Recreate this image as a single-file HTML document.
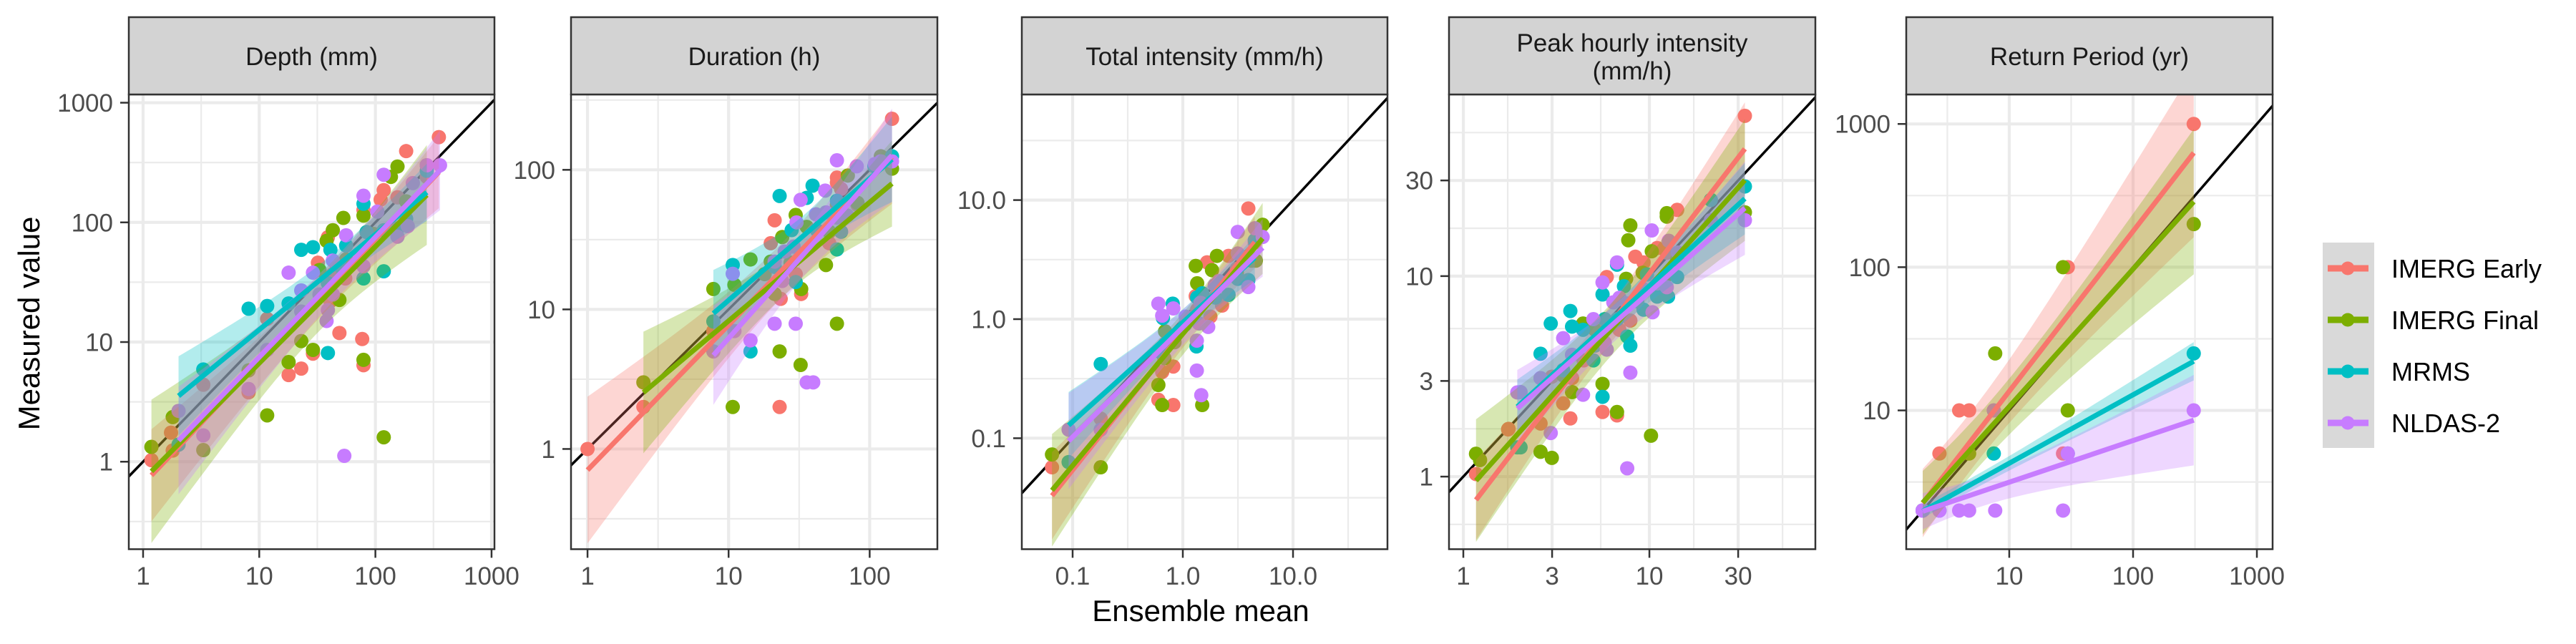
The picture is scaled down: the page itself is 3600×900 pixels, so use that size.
<!DOCTYPE html>
<html><head><meta charset="utf-8"><title>Measured vs ensemble mean</title>
<style>
html,body{margin:0;padding:0;background:#fff;width:3600px;height:900px;overflow:hidden;}
svg{display:block;font-family:"Liberation Sans",Arial,sans-serif;}
</style></head>
<body>
<svg id="chart" width="3600" height="900" viewBox="0 0 3600 900" xmlns="http://www.w3.org/2000/svg">
<rect width="3600" height="900" fill="#fff"/>
<text x="0" y="0" transform="translate(55,452) rotate(-90)" text-anchor="middle" font-size="42" fill="#000">Measured value</text>
<text x="1678" y="868" text-anchor="middle" font-size="42" fill="#000">Ensemble mean</text>
<g id="legend"></g>
</svg>
<script>
// ---------- data ----------
const seriesNames = ['IMERG Early','IMERG Final','MRMS','NLDAS-2'];
const seriesColors = ['#F8766D','#7CAE00','#00BFC4','#C77CFF'];

const depthEarlyX = [1.18,1.74,1.8,3.3,8.1,11.7,17.9,23,29,32,39,41,43,49,55,77,79,79,111,118,155,184,277,352];
const depthEarlyY = [1.03,1.75,1.24,4.4,3.8,15.6,5.3,6,8,46,75,22,37,11.9,34,10.6,6.4,127,155,186,162,394,240,516];
const depthFinalX = [1.18,1.8,3.3,8.1,11.7,17.9,23,29,33,38,43,49,53,56,79,79,97,118,136,155,184,277];
const depthFinalY = [1.33,2.36,1.25,5.8,2.44,6.8,10.2,8.6,40,70,86,22.5,109,49,7.1,114,80,1.6,240,293,150,300];
const depthMrmsX = [2.02,3.3,8.1,11.7,17.9,23,29,39,39,41,51,56,79,79,84,118,118,155,184,277];
const depthMrmsY = [1.39,5.9,19,20,21,59,62,8.1,31,59,42,64,34,143,83,39,86,89,107,270];
const depthNldasX = [2.02,3.3,8.1,11.7,17.9,23,23,29,33,38,39,43,43,54,56,79,79,104,118,155,190,210,277,360];
const depthNldasY = [2.66,1.66,4.05,8.6,38,18,27,38,25,15,18.5,25,48,1.12,78,167,43,123,250,76,93,213,300,300];

const durEarlyX = [1,2.49,7.8,19.9,21.2,23,23.4,29.9,32.7,51.7,58.6,58.6,62.7,82,144];
const durEarlyY = [1,2.0,7.0,29.8,43.5,2.0,11.9,17.9,12.9,29.8,88,81,73,56,232];
const durFinalX = [2.49,7.8,10.7,11,14.3,18,19.9,21.2,23,24,27.5,29.9,32.7,32.4,35.8,49,51.7,58.6,58.6,70,82,120,144];
const durFinalY = [3.0,14,2.0,15,22.8,17.9,22,12.9,5.0,33,21.6,47.5,14,4.0,39,20.8,36,7.9,56,91,58,125,102];
const durMrmsX = [7.8,10.7,14.3,21.2,23,28,29.9,35.8,39.4,42.5,58.6,62.7,58.6,108,144];
const durMrmsY = [8.2,20.8,5.0,20.2,65,37,15.7,63,77,36.7,26.9,36,60,106,125];
const durNldasX = [7.8,10.7,11,14.3,21.2,21.2,25,24,28.9,29.9,30.3,32.4,35.8,39.8,41.6,48.4,49,58.6,58.6,69.4,81,109,120,144];
const durNldasY = [5.0,18,7.0,6.0,7.9,22,26,16,28.2,7.9,42,61,3.0,3.0,48,71,49.5,117,45.5,47,106,110,115,115];

const intEarlyX = [0.065,0.18,0.6,0.65,0.69,0.82,0.82,1.31,1.35,1.66,1.78,2.27,2.6,3.09,3.93,4.5];
const intEarlyY = [0.057,0.146,0.21,0.36,0.62,0.19,0.40,1.56,1.2,3.0,1.05,1.3,3.4,2.65,8.5,4.4];
const intFinalX = [0.065,0.18,0.6,0.65,0.68,0.69,0.84,1.31,1.35,1.5,1.84,2.04,3.09,4.2,4.6,5.3];
const intFinalY = [0.073,0.057,0.28,0.19,0.47,0.79,0.64,2.8,2.0,0.19,2.58,3.4,2.45,3.1,3.1,6.2];
const intMrmsX = [0.092,0.18,0.6,0.66,0.81,1.05,1.33,1.35,1.5,1.97,2.6,3.15,3.93,4.5];
const intMrmsY = [0.063,0.42,0.54,1.02,1.35,0.9,0.59,1.52,1.65,1.52,1.6,2.18,2.13,4.6];
const intNldasX = [0.092,0.18,0.6,0.65,0.82,1.06,1.34,1.34,1.47,1.4,1.45,1.7,1.95,2.12,3.15,3.15,3.93,4.5,5.3];
const intNldasY = [0.118,0.118,1.35,1.07,1.23,1.05,0.66,0.37,0.23,0.92,1.37,0.86,1.93,2.09,3.56,5.4,1.86,5.8,4.9];

const peakEarlyX = [1.17,1.74,1.75,2.6,2.99,3.44,3.76,3.84,4.43,5.6,5.9,6.7,6.9,7.9,8.4,9.3,11,12.4,14.1,32.6];
const peakEarlyY = [1.03,1.72,1.73,1.84,3.15,2.32,1.95,3.1,3.8,2.1,9.9,2.02,5.4,6.0,12.5,11.7,13.8,13.1,21.4,63];
const peakFinalX = [1.17,1.23,2.6,2.99,3.44,3.84,4.4,5.1,5.6,6.7,7.5,7.7,7.9,9.2,10.2,10.3,12.4,12.4,12.6,14.1,32.6];
const peakFinalY = [1.30,1.21,1.33,1.24,3.2,2.64,5.8,5.4,2.9,2.1,9.7,15.1,17.9,10.4,1.6,13.3,20.6,19.8,10.2,12.1,20.8];
const peakMrmsX = [1.95,2.03,2.6,2.95,3.44,3.76,3.84,4.4,5,5.1,5.6,5.6,5.75,6.7,6.7,7.3,7.6,7.9,8.6,9.3,9.7,11,12.6,14.1,21.4,32.6];
const peakMrmsY = [1.40,1.40,4.1,5.8,3.4,6.7,5.6,5.4,3.8,4.5,8.1,2.5,6.1,6.1,11.4,8.9,5.0,4.5,7.5,6.8,10.2,7.9,7.9,9.9,24,28];
const peakNldasX = [1.95,2.03,2.6,2.95,3.44,3.84,4.4,5,5.6,5.75,5.9,6.7,6.4,6.9,7.6,7.9,7.6,9.3,10.3,10.4,11,12.4,12.7,14.2,21.4,32.6];
const peakNldasY = [2.63,2.64,3.1,1.65,4.9,4.05,2.56,6.1,9.3,4.66,4.3,11.7,7.4,7.8,7.3,3.3,1.1,8.6,16.9,6.6,9.2,8.8,15,13.1,19,19];

const retEarlyX = [2,2,2,2,2,2,2,2.73,3.94,4.74,27.2,29.7,309];
const retEarlyY = [2,2,2,2,2,2,2,5,10,10,5,100,1000];
const retFinalX = [2,2,2,2,2,2,2,4.74,7.7,27.2,29.7,309];
const retFinalY = [2,2,2,2,2,2,2,5,25,100,10,200];
const retMrmsX = [2,2,2,2,2,2,2,2,2.73,7.5,29.7,309];
const retMrmsY = [2,2,2,2,2,2,2,2,2,5,5,25];
const retNldasX = [2,2,2,2,2,2,2,2.73,3.94,4.74,7.5,7.7,27.2,29.7,309];
const retNldasY = [2,2,2,2,2,2,2,2,2,2,10,2,2,5,10];

const panelTitles = [['Depth (mm)'],['Duration (h)'],['Total intensity (mm/h)'],['Peak hourly intensity','(mm/h)'],['Return Period (yr)']];
const panelSlugs = ['depth','duration','total-intensity','peak-hourly-intensity','return-period'];
const xTickValues = [[1,10,100,1000],[1,10,100],[0.1,1,10],[1,3,10,30],[10,100,1000]];
const xTickLabels = [['1','10','100','1000'],['1','10','100'],['0.1','1.0','10.0'],['1','3','10','30'],['10','100','1000']];
const yTickValues = [[1,10,100,1000],[1,10,100],[0.1,1,10],[1,3,10,30],[10,100,1000]];
const yTickLabels = [['1','10','100','1000'],['1','10','100'],['0.1','1.0','10.0'],['1','3','10','30'],['10','100','1000']];
const panelSeriesX = [
  [depthEarlyX,depthFinalX,depthMrmsX,depthNldasX],
  [durEarlyX,durFinalX,durMrmsX,durNldasX],
  [intEarlyX,intFinalX,intMrmsX,intNldasX],
  [peakEarlyX,peakFinalX,peakMrmsX,peakNldasX],
  [retEarlyX,retFinalX,retMrmsX,retNldasX]];
const panelSeriesY = [
  [depthEarlyY,depthFinalY,depthMrmsY,depthNldasY],
  [durEarlyY,durFinalY,durMrmsY,durNldasY],
  [intEarlyY,intFinalY,intMrmsY,intNldasY],
  [peakEarlyY,peakFinalY,peakMrmsY,peakNldasY],
  [retEarlyY,retFinalY,retMrmsY,retNldasY]];

// ---------- layout (log10 domains) ----------
const layout = [
  {L:180,R:691,xlo:-0.123,xhi:3.025,ylo:-0.731,yhi:3.069},
  {L:798,R:1310,xlo:-0.117,xhi:2.48,ylo:-0.718,yhi:2.54},
  {L:1428,R:1939,xlo:-1.461,xhi:1.857,ylo:-1.932,yhi:1.887},
  {L:2025,R:2537,xlo:-0.077,xhi:1.892,ylo:-0.362,yhi:1.906},
  {L:2664,R:3176,xlo:0.168,xhi:3.127,ylo:0.031,yhi:3.206}];
const TOP=132, BOT=767.5, STRIP_TOP=24;

const NS='http://www.w3.org/2000/svg';
const svg=document.getElementById('chart');
function mk(tag,attrs,parent){const e=document.createElementNS(NS,tag);for(const k in attrs)e.setAttribute(k,attrs[k]);(parent||svg).appendChild(e);return e;}

function tq(df){const z=1.959964;return z+(z*z*z+z)/(4*df)+(5*Math.pow(z,5)+16*z*z*z+3*z)/(96*df*df)+(3*Math.pow(z,7)+19*Math.pow(z,5)+17*z*z*z-15*z)/(384*df*df*df);}
function minorBreaks(m,lo,hi){const out=[];for(let i=0;i<m.length-1;i++)out.push((m[i]+m[i+1])/2);
  if(m.length>1){out.push(m[0]-(m[1]-m[0])/2);out.push(m[m.length-1]+(m[m.length-1]-m[m.length-2])/2);}
  return out.filter(v=>v>lo&&v<hi);}

const defs=mk('defs',{});
layout.forEach((p,pi)=>{
  const sx=v=>p.L+(Math.log10(v)-p.xlo)/(p.xhi-p.xlo)*(p.R-p.L);
  const sy=v=>BOT-(Math.log10(v)-p.ylo)/(p.yhi-p.ylo)*(BOT-TOP);
  const sxl=l=>p.L+(l-p.xlo)/(p.xhi-p.xlo)*(p.R-p.L);
  const syl=l=>BOT-(l-p.ylo)/(p.yhi-p.ylo)*(BOT-TOP);
  const g=mk('g',{});
  
  
  const cp=mk('clipPath',{id:'clip'+pi},defs);
  mk('rect',{x:p.L,y:TOP,width:p.R-p.L,height:BOT-TOP},cp);
  mk('rect',{x:p.L,y:TOP,width:p.R-p.L,height:BOT-TOP,fill:'#fff'},g);
  const grid=mk('g',{'clip-path':'url(#clip'+pi+')'},g);
  
  
  const xm=xTickValues[pi].map(Math.log10), ym=yTickValues[pi].map(Math.log10);
  minorBreaks(xm,p.xlo,p.xhi).forEach(l=>mk('line',{x1:sxl(l),x2:sxl(l),y1:TOP,y2:BOT,stroke:'#ebebeb','stroke-width':2.2},grid));
  minorBreaks(ym,p.ylo,p.yhi).forEach(l=>mk('line',{x1:p.L,x2:p.R,y1:syl(l),y2:syl(l),stroke:'#ebebeb','stroke-width':2.2},grid));
  xm.forEach(l=>mk('line',{x1:sxl(l),x2:sxl(l),y1:TOP,y2:BOT,stroke:'#ebebeb','stroke-width':4.2},grid));
  ym.forEach(l=>mk('line',{x1:p.L,x2:p.R,y1:syl(l),y2:syl(l),stroke:'#ebebeb','stroke-width':4.2},grid));
  const plot=mk('g',{'clip-path':'url(#clip'+pi+')'},g);
  const lo=Math.min(p.xlo,p.ylo)-1, hi=Math.max(p.xhi,p.yhi)+1;
  const idl=mk('line',{x1:sxl(lo),y1:syl(lo),x2:sxl(hi),y2:syl(hi),stroke:'#000','stroke-width':3.5},plot);
  
  
  for(let s=0;s<4;s++){
    const xs=panelSeriesX[pi][s], ys=panelSeriesY[pi][s];
    for(let i=0;i<xs.length;i++){
      const c=mk('circle',{cx:sx(xs[i]),cy:sy(ys[i]),r:10,fill:seriesColors[s]},plot);
      
      
    }
  }
  const fits=[];
  for(let s=0;s<4;s++){
    const X=panelSeriesX[pi][s].map(Math.log10), Y=panelSeriesY[pi][s].map(Math.log10);
    const n=X.length, mx=X.reduce((a,b)=>a+b)/n, my=Y.reduce((a,b)=>a+b)/n;
    let sxx=0,sxy=0;for(let i=0;i<n;i++){sxx+=(X[i]-mx)**2;sxy+=(X[i]-mx)*(Y[i]-my);}
    const b=sxy/sxx, a=my-b*mx;
    let sse=0;for(let i=0;i<n;i++)sse+=(Y[i]-a-b*X[i])**2;
    const se=Math.sqrt(sse/(n-2)), t=tq(n-2);
    const x0=Math.min(...X), x1=Math.max(...X), up=[], dn=[];
    fits.push({a,b,x0,x1});
    for(let k=0;k<=60;k++){const x=x0+(x1-x0)*k/60, f=a+b*x, w=t*se*Math.sqrt(1/n+(x-mx)**2/sxx);
      up.push(sxl(x)+','+syl(f+w));dn.unshift(sxl(x)+','+syl(f-w));}
    const rib=mk('polygon',{points:up.concat(dn).join(' '),fill:seriesColors[s],'fill-opacity':0.3},plot);
    
    
  }
  fits.forEach((f,s)=>{
    const ln=mk('line',{x1:sxl(f.x0),y1:syl(f.a+f.b*f.x0),x2:sxl(f.x1),y2:syl(f.a+f.b*f.x1),stroke:seriesColors[s],'stroke-width':7},plot);
    
    
  });
  mk('rect',{x:p.L,y:TOP,width:p.R-p.L,height:BOT-TOP,fill:'none',stroke:'#333','stroke-width':2.5},g);
  const st=mk('rect',{x:p.L,y:STRIP_TOP,width:p.R-p.L,height:TOP-STRIP_TOP,fill:'#d3d3d3',stroke:'#333','stroke-width':2.5},g);
  
  
  const lines=panelTitles[pi], cx=(p.L+p.R)/2;
  lines.forEach((tx,li)=>{
    const y=lines.length===1?79+12:(60+12+li*39);
    const te=mk('text',{x:cx,y:y,'text-anchor':'middle','font-size':35,fill:'#1a1a1a'},g);
    te.textContent=tx;
    
    
  });
  xTickValues[pi].forEach((v,i)=>{
    const x=sx(v);
    mk('line',{x1:x,x2:x,y1:BOT,y2:BOT+12,stroke:'#333','stroke-width':2.5},g);
    const te=mk('text',{x:x,y:817,'text-anchor':'middle','font-size':35,fill:'#4d4d4d'},g);
    te.textContent=xTickLabels[pi][i];
    
    
  });
  yTickValues[pi].forEach((v,i)=>{
    const y=sy(v);
    mk('line',{x1:p.L-12,x2:p.L,y1:y,y2:y,stroke:'#333','stroke-width':2.5},g);
    const te=mk('text',{x:p.L-22,y:y+12.5,'text-anchor':'end','font-size':35,fill:'#4d4d4d'},g);
    te.textContent=yTickLabels[pi][i];
    
    
  });
});

const lg=document.getElementById('legend');
svg.appendChild(lg);
mk('rect',{x:3246,y:339,width:72,height:287,fill:'#d9d9d9'},lg);
seriesNames.forEach((nm,i)=>{
  const y=375+i*72;
  const e=mk('g',{},lg);
  
  
  mk('line',{x1:3253,x2:3310,y1:y,y2:y,stroke:seriesColors[i],'stroke-width':9},e);
  mk('circle',{cx:3281,cy:y,r:9.5,fill:seriesColors[i]},e);
  const t=mk('text',{x:3342,y:y+13,'font-size':36,fill:'#000'},e);
  t.textContent=nm;
});
</script>
</body></html>
